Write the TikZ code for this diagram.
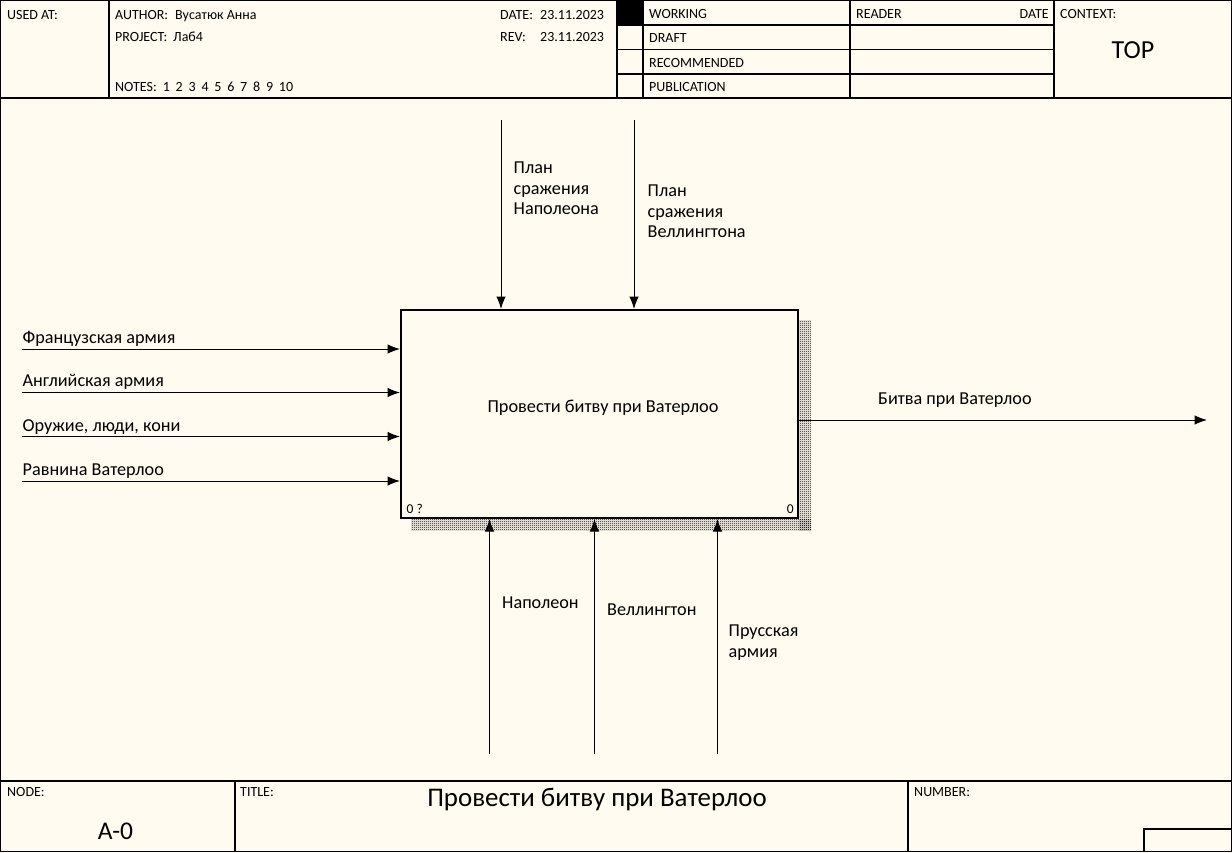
\documentclass[tikz,border=0pt]{standalone}
\usepackage{fontspec}
\setmainfont{Carlito}
\usetikzlibrary{arrows.meta,patterns}
\definecolor{paper}{RGB}{255,251,240}

% fine checkerboard used for the drop shadow of the activity box
\pgfdeclarepatternformonly{finechecker}{\pgfpointorigin}{\pgfpoint{2pt}{2pt}}{\pgfpoint{2pt}{2pt}}{%
  \pgfpathrectangle{\pgfpointorigin}{\pgfpoint{1pt}{1pt}}%
  \pgfpathrectangle{\pgfpoint{1pt}{1pt}}{\pgfpoint{1pt}{1pt}}%
  \pgfusepath{fill}}

\begin{document}
\begin{tikzpicture}[x=1pt,y=-1pt,
  rule/.style={draw=black,line width=1.2pt},
  hdr/.style={anchor=base west,inner sep=0pt,font=\fontsize{14}{14}\selectfont},
  hdrr/.style={anchor=base east,inner sep=0pt,font=\fontsize{14}{14}\selectfont},
  lbl/.style={anchor=base west,inner sep=0pt,align=left,font=\fontsize{18.2}{20.5}\selectfont},
  flow/.style={draw,line width=1pt,-{Latex[length=12.5pt,width=9.5pt]}},
  activity/.style={draw,line width=2pt,fill=paper,minimum width=397pt,minimum height=208pt,inner sep=0pt}
]
\fill[paper] (0,0) rectangle (1232,852);
\useasboundingbox (0,0) rectangle (1232,852);

% ---------- outer frame and header grid ----------
\draw[rule] (0.6,0.6) rectangle (1231.4,851.4);
\draw[rule] (0,98) -- (1232,98);
\draw[rule] (109,0) -- (109,98);
\draw[rule] (617,0) -- (617,98);
\draw[rule] (643,0) -- (643,98);
\draw[rule] (850,0) -- (850,98);
\draw[rule] (1054,0) -- (1054,98);
\fill (617,0) rectangle (643,25);
\foreach \yy in {25,49.5,74} \draw[rule] (617,\yy) -- (1054,\yy);

\node[hdr] (usedat) at (7,19) {USED AT:};
\node[hdr] (author) at (115,19) {AUTHOR:};
\node[hdr] (authorv) at (175,19) {Вусатюк Анна};
\node[hdr] (project) at (115,41) {PROJECT:};
\node[hdr] (projectv) at (173,41) {Лаб4};
\node[hdr] (notes) at (115,91) {NOTES:\hspace{6pt}1\hspace{5.8pt}2\hspace{5.8pt}3\hspace{5.8pt}4\hspace{5.8pt}5\hspace{5.8pt}6\hspace{5.8pt}7\hspace{5.8pt}8\hspace{5.8pt}9\hspace{5.8pt}10};
\node[hdr] (date) at (500,19) {DATE:};
\node[hdr] (datev) at (540,19) {23.11.2023};
\node[hdr] (rev) at (500,41) {REV:};
\node[hdr] (revv) at (540,41) {23.11.2023};
\node[hdr] (working) at (649,18.5) {WORKING};
\node[hdr] (draft) at (649,42.5) {DRAFT};
\node[hdr] (recommended) at (649,67) {RECOMMENDED};
\node[hdr] (publication) at (649,91.5) {PUBLICATION};
\node[hdr] (reader) at (856,18.5) {READER};
\node[hdrr] (rdate) at (1049,18.5) {DATE};
\node[hdr] (context) at (1060,18.5) {CONTEXT:};
\node[anchor=base,inner sep=0pt,font=\fontsize{26}{26}\selectfont] (top) at (1133,58.5) {TOP};

% ---------- footer ----------
\draw[rule] (0,781) -- (1232,781);
\draw[rule] (235,781) -- (235,852);
\draw[rule] (908,781) -- (908,852);
\draw[rule] (1144,852) -- (1144,829) -- (1232,829);
\node[hdr] (nodelbl) at (7,796) {NODE:};
\node[hdr] (titlelbl) at (240,796) {TITLE:};
\node[hdr] (numberlbl) at (914,796) {NUMBER:};
\node[anchor=base,inner sep=0pt,font=\fontsize{25.5}{25.5}\selectfont] (nodeno) at (115.5,839) {A-0};
\node[anchor=base,inner sep=0pt,font=\fontsize{26.9}{27}\selectfont] (title) at (597,806.5) {Провести битву при Ватерлоо};

% ---------- activity box with shadow ----------
\fill[pattern=finechecker,pattern color=black] (799,320) rectangle (811,530);
\fill[pattern=finechecker,pattern color=black] (411,519) rectangle (811,530);
\node[activity] (box) at (599.5,414) {};
\node[anchor=base,inner sep=0pt,font=\fontsize{18.3}{20}\selectfont] (boxtext) at (603,412) {Провести битву при Ватерлоо};
\node[anchor=base west,inner sep=0pt,font=\fontsize{13.5}{13.5}\selectfont] (boxnum) at (406.5,513.5) {0 ?};
\node[anchor=base east,inner sep=0pt,font=\fontsize{13.5}{13.5}\selectfont] (boxnode) at (794,513.5) {0};

% ---------- inputs ----------
\coordinate (in1) at (22,349);
\coordinate (in2) at (22,392.5);
\coordinate (in3) at (22,436.5);
\coordinate (in4) at (22,481);
\draw[flow] (in1) -- (in1 -| box.west);
\draw[flow] (in2) -- (in2 -| box.west);
\draw[flow] (in3) -- (in3 -| box.west);
\draw[flow] (in4) -- (in4 -| box.west);
\node[lbl] (lin1) at (22.5,343) {Французская армия};
\node[lbl] (lin2) at (22.5,386.5) {Английская армия};
\node[lbl] (lin3) at (22.5,431) {Оружие, люди, кони};
\node[lbl] (lin4) at (22.5,475) {Равнина Ватерлоо};

% ---------- controls (multi-line labels are placed by their last line) ----------
\coordinate (ct1) at (501,120);
\coordinate (ct2) at (634,120);
\draw[flow] (ct1) -- (ct1 |- box.north);
\draw[flow] (ct2) -- (ct2 |- box.north);
\node[lbl] (lct1) at (513.5,214.5) {План\\сражения\\Наполеона};
\node[lbl] (lct2) at (647.5,237.5) {План\\сражения\\Веллингтона};

% ---------- output ----------
\coordinate (out) at (1207,420);
\draw[flow] (out -| box.east) -- (out);
\node[lbl] (lout) at (878,404) {Битва при Ватерлоо};

% ---------- mechanisms ----------
\coordinate (mc1) at (489.5,754);
\coordinate (mc2) at (594.5,754);
\coordinate (mc3) at (717.5,754);
\draw[flow] (mc1) -- (mc1 |- box.south);
\draw[flow] (mc2) -- (mc2 |- box.south);
\draw[flow] (mc3) -- (mc3 |- box.south);
\node[lbl] (lmc1) at (502,608.5) {Наполеон};
\node[lbl] (lmc2) at (607,615.5) {Веллингтон};
\node[lbl] (lmc3) at (728.5,657) {Прусская\\армия};
\end{tikzpicture}
\end{document}
